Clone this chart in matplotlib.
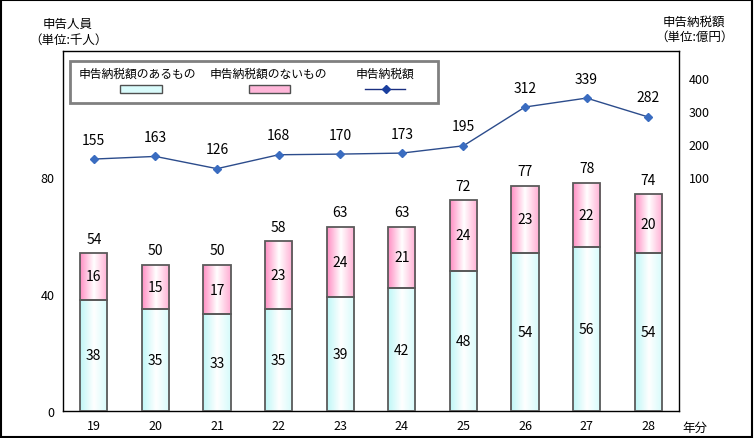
import numpy as np
import matplotlib.pyplot as plt
from matplotlib.colors import LinearSegmentedColormap
from matplotlib.patches import Rectangle
from matplotlib.lines import Line2D

plt.rcParams['font.family'] = ['Noto Sans CJK JP', 'DejaVu Sans']

years = ['19', '20', '21', '22', '23', '24', '25', '26', '27', '28']
with_tax = [38, 35, 33, 35, 39, 42, 48, 54, 56, 54]
no_tax = [16, 15, 17, 23, 24, 21, 24, 23, 22, 20]
totals = [54, 50, 50, 58, 63, 63, 72, 77, 78, 74]
tax_amount = [155, 163, 126, 168, 170, 173, 195, 312, 339, 282]

left_ticks = [0, 40, 80]
right_ticks = [100, 200, 300, 400]

fig = plt.figure(figsize=(7.54, 4.39), dpi=100)
ax = fig.add_axes([63 / 754, 27 / 439, 616 / 754, 360 / 439])
x = np.arange(len(years))

cyan_cm = LinearSegmentedColormap.from_list('c', ['#bff7f7', '#ffffff', '#d6fbfb'])
pink_cm = LinearSegmentedColormap.from_list('p', ['#ff8fc4', '#ffffff', '#ffadd3'])

b1 = ax.bar(x, with_tax, width=0.44, facecolor='none', edgecolor='#5a5a5a', lw=1.3, zorder=3)
b2 = ax.bar(x, no_tax, width=0.44, bottom=with_tax, facecolor='none', edgecolor='#5a5a5a', lw=1.3, zorder=3)

grad = np.linspace(0, 1, 64).reshape(1, -1)
for bars, cm in [(b1, cyan_cm), (b2, pink_cm)]:
    for p in bars:
        x0, y0 = p.get_x(), p.get_y()
        im = ax.imshow(grad, cmap=cm, aspect='auto', zorder=2,
                       extent=[x0, x0 + p.get_width(), y0, y0 + p.get_height()])
        im.set_clip_path(p)

ax.set_xlim(-0.5, len(years) - 0.5)
ax.set_ylim(0, 123)

for i in range(len(years)):
    ax.text(x[i], with_tax[i] / 2, str(with_tax[i]), ha='center', va='center', fontsize=10, zorder=4)
    ax.text(x[i], with_tax[i] + no_tax[i] / 2, str(no_tax[i]), ha='center', va='center', fontsize=10, zorder=4)
    ax.text(x[i], totals[i] + 2.5, str(totals[i]), ha='center', va='bottom', fontsize=10, zorder=4)

ax.set_yticks(left_ticks)
ax.set_yticklabels([str(t) for t in left_ticks], fontsize=9)
ax.set_xticks(x)
ax.set_xticklabels(years, fontsize=9)
ax.tick_params(length=0, pad=6)
for s in ax.spines.values():
    s.set_color('black')
    s.set_linewidth(1)

ax2 = ax.twinx()
ax2.set_ylim(-605, 481)
ax2.plot(x, tax_amount, color='#2c4c8c', lw=1, marker='D', ms=4.5,
         markerfacecolor='#3a6cc0', markeredgecolor='#3a6cc0', zorder=5)
for i in range(len(years)):
    ax2.annotate(str(tax_amount[i]), (x[i], tax_amount[i]), xytext=(0, 9),
                 textcoords='offset points', ha='center', va='bottom', fontsize=10)
ax2.set_yticks(right_ticks)
ax2.set_yticklabels([str(t) for t in right_ticks], fontsize=9)
ax2.tick_params(length=0, pad=7)
for s in ax2.spines.values():
    s.set_visible(False)

# axis titles
fig.text(68 / 754, 1 - 24 / 439, '申告人員', ha='center', va='center', fontsize=9)
fig.text(68 / 754, 1 - 40 / 439, '（単位:千人）', ha='center', va='center', fontsize=9)
fig.text(694 / 754, 1 - 22 / 439, '申告納税額', ha='center', va='center', fontsize=9)
fig.text(694 / 754, 1 - 37 / 439, '（単位:億円）', ha='center', va='center', fontsize=9)
fig.text(695 / 754, 1 - 428 / 439, '年分', ha='center', va='center', fontsize=9)

# legend box
H = 439
fig.patches.append(Rectangle((70 / 754, 1 - 104 / H), 368 / 754, 42 / H, transform=fig.transFigure,
                             facecolor='white', edgecolor='#808080', lw=2, zorder=10))
fig.text(137 / 754, 1 - 74 / H, '申告納税額のあるもの', ha='center', va='center', fontsize=8.5, zorder=11)
fig.text(268 / 754, 1 - 74 / H, '申告納税額のないもの', ha='center', va='center', fontsize=8.5, zorder=11)
fig.text(385 / 754, 1 - 74 / H, '申告納税額', ha='center', va='center', fontsize=8.5, zorder=11)
fig.patches.append(Rectangle((120 / 754, 1 - 94 / H), 42 / 754, 8 / H, transform=fig.transFigure,
                             facecolor='#d9fbfb', edgecolor='#505050', lw=1, zorder=11))
fig.patches.append(Rectangle((249 / 754, 1 - 94 / H), 41 / 754, 8 / H, transform=fig.transFigure,
                             facecolor='#ffb6d9', edgecolor='#505050', lw=1, zorder=11))
fig.lines.append(Line2D([365 / 754, 405 / 754], [1 - 90 / H, 1 - 90 / H], transform=fig.transFigure,
                        color='#1a2f80', lw=1, zorder=11))
fig.lines.append(Line2D([386 / 754], [1 - 90 / H], transform=fig.transFigure, marker='D', ms=4.5,
                        color='#1a3f9f', zorder=12))

# outer border
fig.patches.append(Rectangle((0.001, 0.002), 0.997, 0.996, transform=fig.transFigure,
                             facecolor='none', edgecolor='black', lw=1.5))

fig.savefig('out.png', dpi=100)
